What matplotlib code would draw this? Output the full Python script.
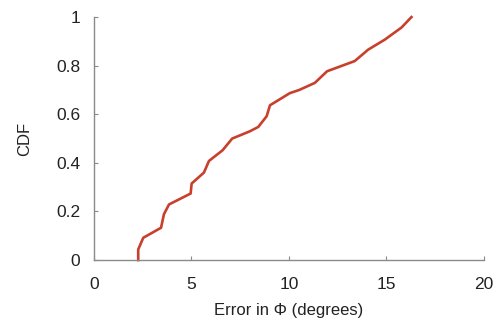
import numpy as np
import matplotlib
matplotlib.use("Agg")
import matplotlib.pyplot as plt

plt.rcParams["font.family"] = ["Liberation Sans", "DejaVu Sans"]

# CDF curve
err_deg = [2.27, 2.27, 2.53, 3.44, 3.59, 3.85, 4.96, 5.01, 5.64, 5.90, 6.60,
           7.09, 8.00, 8.43, 8.86, 9.03, 10.05, 10.53, 11.33, 11.96, 13.38,
           14.07, 14.92, 15.78, 16.29]
cdf = [0.0, 0.044, 0.092, 0.133, 0.189, 0.229, 0.274, 0.315, 0.36, 0.408, 0.452,
       0.50, 0.53, 0.548, 0.592, 0.637, 0.687, 0.70, 0.729, 0.777, 0.819,
       0.866, 0.907, 0.957, 1.0]

xticks = [0, 5, 10, 15, 20]
yticks = [0, 0.2, 0.4, 0.6, 0.8, 1]

fig = plt.figure(figsize=(5.01, 3.28), dpi=100)
ax = fig.add_axes([0.1876, 0.207, 0.778, 0.741])

ax.plot(err_deg, cdf, color="#c8402c", lw=1.9, solid_joinstyle="round",
        clip_on=False)

ax.set_xlim(0, 20)
ax.set_ylim(0, 1)
ax.set_xticks(xticks)
ax.set_yticks(yticks)
ax.set_xticklabels([str(t) for t in xticks])
ax.set_yticklabels(["0", "0.2", "0.4", "0.6", "0.8", "1"])

for s in ["top", "right"]:
    ax.spines[s].set_visible(False)
for s in ["left", "bottom"]:
    ax.spines[s].set_color("#8a8a8a")
    ax.spines[s].set_linewidth(1.0)

ax.tick_params(direction="in", length=3, color="#8a8a8a", labelsize=12.5,
               labelcolor="#222222")
ax.tick_params(axis="x", pad=12)
ax.tick_params(axis="y", pad=10)

ax.set_xlabel("Error in \u03a6 (degrees)", fontsize=12, color="#222222", labelpad=8)
ax.set_ylabel("CDF", fontsize=12, color="#222222", labelpad=17)

fig.savefig("out.png", dpi=100)
